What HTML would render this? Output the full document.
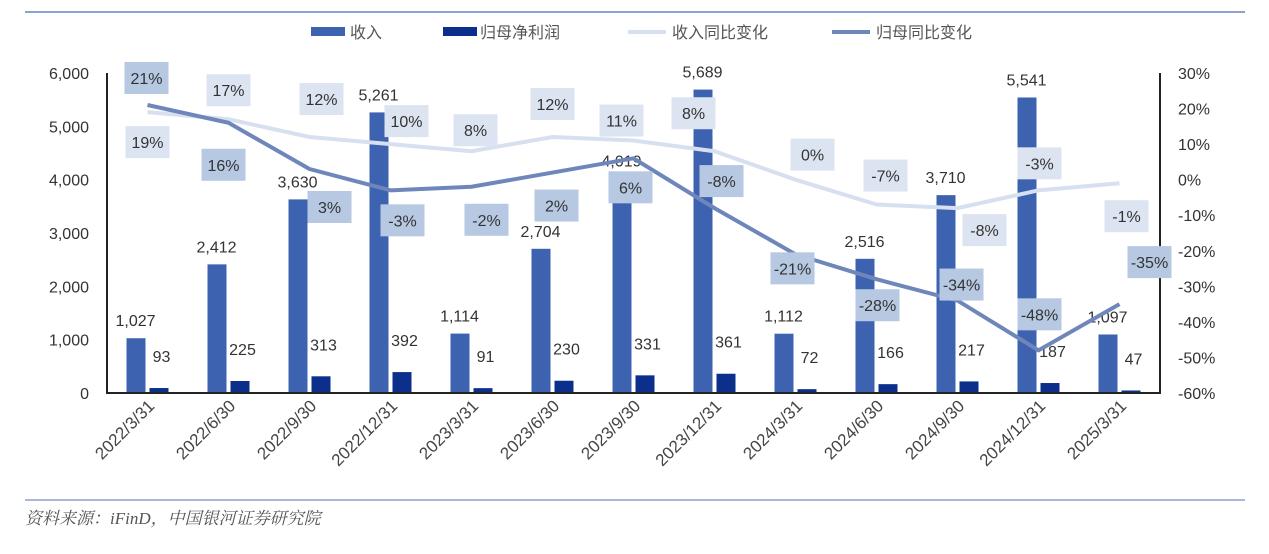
<!DOCTYPE html>
<html><head><meta charset="utf-8"><style>
body{margin:0;background:#fff;width:1269px;height:549px;overflow:hidden}
svg{font-family:"Liberation Sans","Noto Sans CJK SC",sans-serif}
</style></head><body>
<svg id="chart" width="1269" height="549" viewBox="0 0 1269 549" xmlns="http://www.w3.org/2000/svg">
<line x1="25" y1="12" x2="1245" y2="12" stroke="#8ea2cf" stroke-width="2"/>
<line x1="25" y1="500" x2="1245" y2="500" stroke="#8ea2cf" stroke-width="1.5"/>
<text x="25" y="524" font-size="17" font-style="italic" fill="#555" font-family="Liberation Serif,'Noto Serif CJK SC',serif">资料来源：iFinD，中国银河证券研究院</text>
<g font-size="16" fill="#555">
<rect x="311" y="27" width="34" height="9" fill="#3d63b0"/>
<text x="350" y="38">收入</text>
<rect x="443" y="27" width="34" height="9" fill="#0b2f8a"/>
<text x="480" y="38">归母净利润</text>
<line x1="628" y1="32" x2="666" y2="32" stroke="#d6e0f0" stroke-width="4"/>
<text x="672" y="38">收入同比变化</text>
<line x1="832" y1="32" x2="870" y2="32" stroke="#6f86bb" stroke-width="4"/>
<text x="876" y="38">归母同比变化</text>
</g>
<g id="plot"></g>
</svg>
<script>
const categories=["2022/3/31","2022/6/30","2022/9/30","2022/12/31","2023/3/31","2023/6/30","2023/9/30","2023/12/31","2024/3/31","2024/6/30","2024/9/30","2024/12/31","2025/3/31"];
const revenue=[1027,2412,3630,5261,1114,2704,4019,5689,1112,2516,3710,5541,1097];
const profit=[93,225,313,392,91,230,331,361,72,166,217,187,47];
const revenueYoy=[19,17,12,10,8,12,11,8,0,-7,-8,-3,-1];
const profitYoy=[21,16,3,-3,-2,2,6,-8,-21,-28,-34,-48,-35];
const leftTicks=[0,1000,2000,3000,4000,5000,6000];
const rightTicks=[-60,-50,-40,-30,-20,-10,0,10,20,30];
// label placement offsets (styling)
const profLblDx=[-1,-5,20,12,15,4,-3,7,-3,1,4,1,30], profLblDy=[-27,42,38,30,33,33,29,-27,14,26,-16,-36,-42];
const revLblDx=[0,0,12,16,4,0,-12,-21,17,9,27,1,7], revLblDy=[30,-29,-38,-23,-21,-33,-20,-38,-25,-29,22,-27,33];
const L=107,R=1160,T=73,B=393;
const yL=v=>B-(v/6000)*(B-T);
const yR=v=>B-((v+60)/90)*(B-T);
const step=(R-L)/categories.length;
const cx=i=>L+step*(i+0.5);
const g=document.getElementById('plot');
const NS="http://www.w3.org/2000/svg";
function mk(tag,at,txt){const e=document.createElementNS(NS,tag);for(const k in at)e.setAttribute(k,at[k]);if(txt!=null)e.textContent=txt;g.appendChild(e);return e;}
const fmt=v=>v.toLocaleString('en-US');
leftTicks.forEach(t=>{const e=mk('text',{x:L-18,y:yL(t)+6,'text-anchor':'end','font-size':16,fill:'#333'},fmt(t));

});
rightTicks.forEach(t=>{const e=mk('text',{x:R+18,y:yR(t)+6,'font-size':16,fill:'#333'},t+'%');

});
revenue.forEach((v,i)=>{const b=mk('rect',{x:cx(i)-21,y:yL(v),width:19,height:B-yL(v),fill:'#3d63b0'});


const t=mk('text',{x:cx(i)-12,y:yL(v)-12,'text-anchor':'middle','font-size':16,fill:'#333'},fmt(v));

});
profit.forEach((v,i)=>{const b=mk('rect',{x:cx(i)+2,y:yL(v),width:19,height:B-yL(v),fill:'#0b2f8a'});


const t=mk('text',{x:cx(i)+14,y:yL(v)-26,'text-anchor':'middle','font-size':16,fill:'#333'},fmt(v));

});
const ax=mk('path',{d:`M${L},${T} V${B} H${R} V${T}`,fill:'none',stroke:'#222','stroke-width':2});


const l1=mk('polyline',{points:revenueYoy.map((v,i)=>cx(i)+','+yR(v)).join(' '),fill:'none',stroke:'#d6e0f0','stroke-width':4});


const l2=mk('polyline',{points:profitYoy.map((v,i)=>cx(i)+','+yR(v)).join(' '),fill:'none',stroke:'#6f86bb','stroke-width':4});


function lbl(v,i,dx,dy,fill,name){const x=cx(i)+dx,y=yR(v)+dy;
const r=mk('rect',{x:x-22,y:y-16,width:44,height:32,fill:fill});


const t=mk('text',{x:x,y:y+6,'text-anchor':'middle','font-size':16,fill:'#333'},v+'%');

}
revenueYoy.forEach((v,i)=>lbl(v,i,revLblDx[i],revLblDy[i],'#dce4f1','revenue-yoy-label'));
profitYoy.forEach((v,i)=>lbl(v,i,profLblDx[i],profLblDy[i],'#b6c8e2','profit-yoy-label'));
categories.forEach((c,i)=>{const x=cx(i)+8,y=B+14;
const t=mk('text',{x:x,y:y,'text-anchor':'end','font-size':17,fill:'#444',transform:`rotate(-45 ${x} ${y})`},c);

});
</script>
</body></html>
